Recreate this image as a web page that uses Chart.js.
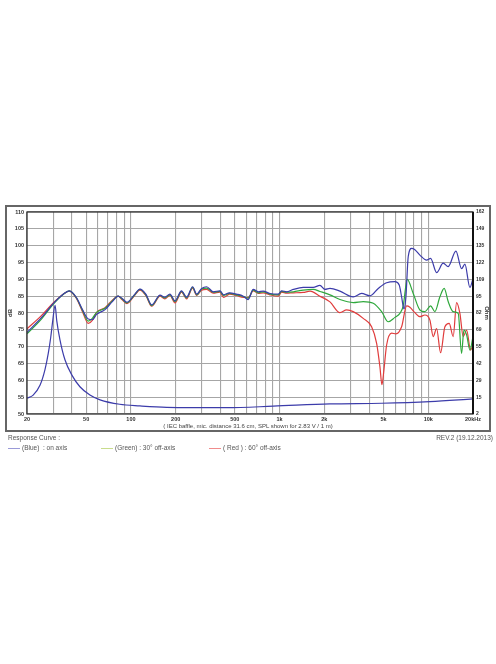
<!DOCTYPE html>
<html>
<head>
<meta charset="utf-8">
<script src="https://cdn.jsdelivr.net/npm/chart.js@4.4.1/dist/chart.umd.min.js"></script>
<style>
body { margin: 0; background: #fff; font-family: "Liberation Sans", Arial, sans-serif; }
#frame { position: absolute; left: 5px; top: 205px; width: 482px; height: 223px; border: 2px solid #666; }
#wrap { position: absolute; left: 0; top: 0; width: 496px; height: 664px; }
.txt { position: absolute; font-size: 6.5px; line-height: 8px; color: #555; white-space: nowrap; }
.sw { position: absolute; height: 1px; width: 12px; }
</style>
</head>
<body>
<div id="frame"></div>
<div id="wrap"><canvas id="resp" width="496" height="664"></canvas></div>
<div class="txt" style="left:0; width:496px; text-align:center; top:422px; font-size:6px; color:#444;">( IEC baffle, mic. distance 31.6 cm, SPL shown for 2.83 V / 1 m)</div>
<div class="txt" style="left:8px; top:434px;">Response Curve :</div>
<div class="txt" style="right:3px; top:434px;">REV.2 (19.12.2013)</div>
<div class="sw" style="left:8px; top:448px; background:#9a9ad8;"></div>
<div class="txt" style="left:22px; top:444px;">(Blue)&nbsp; : on axis</div>
<div class="sw" style="left:101px; top:448px; background:#c8dc8c;"></div>
<div class="txt" style="left:115px; top:444px;">(Green) : 30° off-axis</div>
<div class="sw" style="left:209px; top:448px; background:#f08c8c;"></div>
<div class="txt" style="left:223px; top:444px;">( Red ) : 60° off-axis</div>
<script>
// SPL, common low/mid part (Hz)
var lowFreq = [20, 25, 30, 35, 38.5, 43, 47, 51.7, 55, 58.8, 67, 75, 82, 87, 94, 105, 115, 126, 138, 157, 169, 183, 198, 219, 237, 260, 277, 299, 323, 358, 397, 420, 460, 514, 570, 615, 665, 719, 776, 861, 979, 1032, 1116];
var blueLow = [74.2, 78.6, 82.8, 85.6, 86.6, 84.6, 81.2, 78.2, 78.0, 79.6, 81.0, 83.4, 85.0, 84.4, 83.2, 85.3, 87.1, 85.6, 82.4, 85.3, 84.7, 85.6, 83.6, 86.6, 84.7, 87.8, 85.6, 87.3, 87.8, 86.3, 86.6, 85.4, 86.0, 85.6, 85.0, 84.0, 87.0, 86.3, 86.5, 85.8, 85.6, 86.6, 86.3];
var greenLow = [73.8, 78.2, 82.6, 85.5, 86.6, 84.5, 81.0, 77.6, 78.4, 80.2, 81.4, 83.6, 85.0, 84.2, 83.0, 85.2, 87.0, 85.4, 82.2, 85.2, 84.5, 85.4, 83.4, 86.4, 84.5, 87.6, 85.4, 87.1, 87.4, 86.2, 86.4, 85.2, 85.8, 85.4, 84.9, 84.4, 86.8, 86.0, 86.3, 85.6, 85.4, 86.4, 86.2];
var redLow = [75.3, 79.2, 83.0, 85.6, 86.5, 84.3, 80.6, 76.9, 77.8, 80.2, 81.6, 83.8, 85.0, 84.0, 82.8, 85.0, 86.8, 85.2, 82.0, 85.0, 84.2, 85.2, 83.0, 86.2, 84.2, 87.4, 85.2, 86.8, 87.0, 85.9, 86.2, 84.6, 85.6, 85.2, 84.6, 84.6, 86.6, 85.8, 86.0, 85.4, 85.0, 86.2, 85.9];

// SPL, high part per curve
var blueHighFreq = [1236, 1442, 1685, 1868, 2018, 2182, 2546, 3128, 3562, 4052, 4610, 5248, 5968, 6378, 6620, 6860, 7076, 7332, 7730, 8134, 8788, 9750, 10374, 11382, 12606, 13620, 15348, 16762, 17640, 19064, 20000];
var blueHigh = [87.0, 87.6, 87.6, 88.2, 87.0, 87.3, 86.5, 84.8, 85.8, 85.1, 87.3, 89.0, 89.3, 88.3, 84.8, 81.2, 84.8, 96.7, 99.2, 98.8, 97.2, 95.7, 96.2, 92.0, 94.8, 93.8, 98.4, 93.2, 94.5, 87.6, 90.3];
var greenHighFreq = [1236, 1442, 1685, 1868, 2182, 2546, 3128, 3652, 4266, 4858, 5380, 5968, 6448, 6786, 7220, 7924, 8788, 9498, 10374, 11086, 11978, 12802, 13620, 14716, 15904, 16762, 17370, 18114, 19064, 20000];
var greenHigh = [86.3, 86.8, 87.0, 86.4, 85.4, 84.0, 83.1, 83.4, 82.9, 80.4, 77.4, 78.7, 79.9, 82.1, 90.0, 85.8, 80.9, 80.4, 82.1, 80.4, 84.8, 87.3, 83.4, 80.4, 79.9, 68.0, 74.9, 73.5, 69.0, 73.0];
var redHighFreq = [1236, 1442, 1602, 1868, 2182, 2546, 2825, 3128, 3652, 4160, 4496, 4732, 4880, 5034, 5248, 5672, 6060, 6620, 7154, 7528, 8134, 8788, 9498, 10260, 10798, 11382, 12108, 12942, 13832, 14716, 15514, 16328, 17184, 18114, 19272, 20000];
var redHigh = [86.0, 86.1, 86.5, 85.0, 83.3, 80.1, 80.9, 80.4, 78.4, 75.9, 71.0, 64.0, 58.7, 63.1, 70.5, 74.0, 73.8, 75.9, 82.1, 81.7, 80.1, 78.9, 79.4, 77.9, 73.0, 75.4, 68.2, 75.9, 76.9, 73.0, 83.1, 79.9, 73.0, 74.9, 69.0, 70.5];

// impedance (Ohm), on axis
var impFreq = [20, 22, 24.5, 26.4, 27.8, 28.9, 29.8, 30.9, 31.7, 33.3, 36, 40, 45.4, 53, 62, 84, 115, 174, 441, 906, 2182, 4858, 10260, 20000];
var impOhm = [14.5, 17, 25, 37, 50, 63, 76, 88, 76, 61, 45, 33, 23.6, 17, 13.2, 9.7, 8.4, 7.3, 7.0, 8.2, 10, 10.5, 11.8, 14];

// axis ticks
var gridFreq = [20, 30, 40, 50, 60, 70, 80, 90, 100, 200, 300, 400, 500, 600, 700, 800, 900, 1000, 2000, 3000, 4000, 5000, 6000, 7000, 8000, 9000, 10000, 20000];
var freqLabels = { 20: "20", 50: "50", 100: "100", 200: "200", 500: "500", 1000: "1k", 2000: "2k", 5000: "5k", 10000: "10k", 20000: "20kHz" };

var blueCol = "#3c3caa";
var greenCol = "#2fa83c";
var redCol = "#e03c3c";

function pts(fs, vs) {
    return fs.map(function (f, i) { return { x: f, y: vs[i] }; });
}

function curve(label, data, color, axis) {
    return {
        label: label,
        data: data,
        yAxisID: axis,
        borderColor: color,
        backgroundColor: color,
        borderWidth: 1.2,
        pointRadius: 0,
        fill: false,
        cubicInterpolationMode: "monotone"
    };
}

var plotFrame = {
    id: "plotFrame",
    afterDraw: function (chart) {
        var a = chart.chartArea, c = chart.ctx;
        c.save();
        c.strokeStyle = "#333";
        c.lineWidth = 1.3;
        c.strokeRect(a.left, a.top, a.right - a.left, a.bottom - a.top);
        c.strokeStyle = "#111";
        c.lineWidth = 2;
        c.beginPath();
        c.moveTo(a.right, a.top);
        c.lineTo(a.right, a.bottom);
        c.stroke();
        c.restore();
    }
};

var tickFont = { family: "Liberation Sans, Arial, sans-serif", size: 5.5, weight: "bold" };

new Chart(document.getElementById("resp"), {
    type: "line",
    data: {
        datasets: [
            curve("on axis", pts(lowFreq.concat(blueHighFreq), blueLow.concat(blueHigh)), blueCol, "y"),
            curve("impedance", pts(impFreq, impOhm), blueCol, "y2"),
            curve("30° off-axis", pts(lowFreq.concat(greenHighFreq), greenLow.concat(greenHigh)), greenCol, "y"),
            curve("60° off-axis", pts(lowFreq.concat(redHighFreq), redLow.concat(redHigh)), redCol, "y")
        ]
    },
    options: {
        responsive: false,
        animation: false,
        layout: { padding: { left: 5, right: 5, top: 212, bottom: 232 } },
        plugins: { legend: { display: false }, tooltip: { enabled: false } },
        scales: {
            x: {
                type: "logarithmic",
                min: 20,
                max: 20000,
                afterBuildTicks: function (s) { s.ticks = gridFreq.map(function (v) { return { value: v }; }); },
                afterFit: function (s) { s.height = 18; },
                ticks: {
                    autoSkip: false, maxRotation: 0, padding: 2, color: "#333", font: tickFont,
                    callback: function (v) { return freqLabels[v] || ""; }
                },
                grid: { color: "#a6a6a6", lineWidth: 1.1, drawTicks: false },
                border: { display: false }
            },
            y: {
                min: 50,
                max: 110,
                afterFit: function (s) { s.width = 22; },
                ticks: { stepSize: 5, padding: 3, color: "#333", font: tickFont },
                grid: { color: "#a6a6a6", lineWidth: 1.1, drawTicks: false },
                border: { display: false },
                title: { display: true, text: "dB", color: "#333", padding: { top: 2, bottom: 0 }, font: { size: 6, weight: "bold" } }
            },
            y2: {
                position: "right",
                min: 2,
                max: 162,
                afterFit: function (s) { s.width = 18; },
                ticks: {
                    stepSize: 40 / 3, padding: 3, color: "#333", font: { size: 5, weight: "bold" },
                    callback: function (v) { return Math.round(v); }
                },
                grid: { drawOnChartArea: false, drawTicks: false },
                border: { display: false },
                title: { display: true, text: "Ohm", color: "#333", padding: { top: 1, bottom: 0 }, font: { size: 6, weight: "bold" } }
            }
        }
    },
    plugins: [plotFrame]
});
</script>
</body>
</html>
